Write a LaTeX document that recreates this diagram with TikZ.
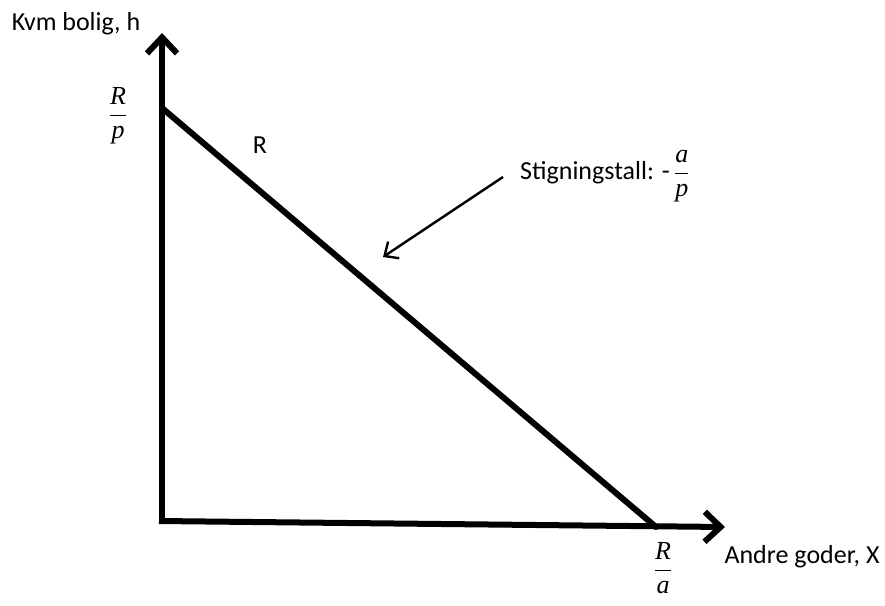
\documentclass[tikz,border=0pt]{standalone}
\usepackage{fontspec}
\setmainfont{Carlito}
\newfontfamily\mathlike{Liberation Serif}
\newcommand{\mfrac}[2]{$\displaystyle\frac{\mbox{\mathlike\itshape #1}}{\mbox{\mathlike\itshape #2}}$}
\usetikzlibrary{arrows.meta}
\begin{document}
\begin{tikzpicture}[x=1pt,y=-1pt,
	axis/.style={line width=6pt,-{Straight Barb[length=16pt,width=30pt]}},
	budget/.style={line width=6pt},
	pointer/.style={line width=2.4pt,-{Straight Barb[length=11pt,width=20pt]}},
	lbl/.style={font=\fontsize{26}{30}\selectfont,inner sep=0pt}]
	\useasboundingbox (0,0) rectangle (885,605);
	% axes
	\coordinate (O) at (162,521);
	\coordinate (ytop) at (162,33);
	\coordinate (xtip) at (725,527);
	\draw[axis] (162,520) -- (ytop);
	\draw[axis] (159,521) -- (xtip);
	% budget line
	\coordinate (A) at (162,108);
	\coordinate (B) at (656,527);
	\draw[budget, line cap=round] (A) -- (B);
	% slope pointer
	\node[lbl, anchor=west] (slope) at (520,176) {Stigningstall: -\,\mfrac{a}{p}};
	\coordinate (ptip) at (383,257);
	\draw[pointer] (503,177) -- (ptip);
	% labels
	\node[lbl] (ylab) at (76,24) {Kvm bolig, h};
	\node[lbl] (xlab) at (802,557) {Andre goder, X};
	\node[lbl] (Rp) at (118,116) {\mfrac{R}{p}};
	\node[lbl] (Ra) at (663,568) {\mfrac{R}{a}};
	\node[lbl] (R) at (260,145) {R};
\end{tikzpicture}
\end{document}
